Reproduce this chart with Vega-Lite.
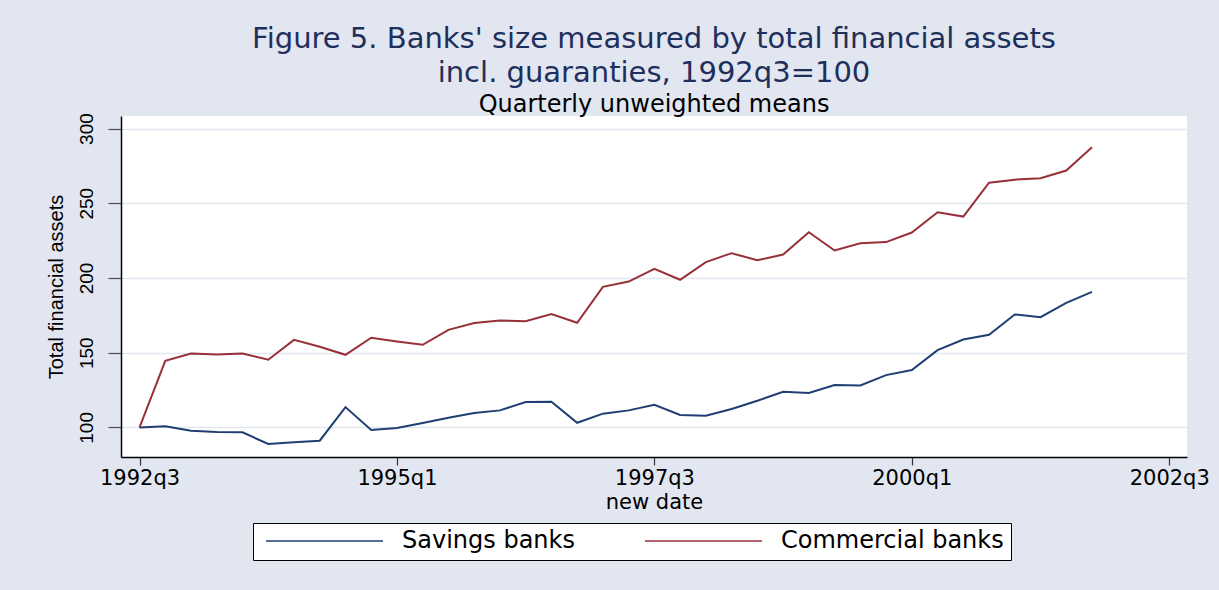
{
  "$schema": "https://vega.github.io/schema/vega-lite/v6.json",
  "width": 1066,
  "height": 341,
  "autosize": {"type": "none"},
  "padding": {"left": 121, "top": 116, "right": 32, "bottom": 133},
  "background": "#E2E6F0",
  "title": {
    "text": ["Figure 5. Banks' size measured by total financial assets", "incl. guaranties, 1992q3=100"],
    "subtitle": "Quarterly unweighted means",
    "anchor": "middle",
    "frame": "group",
    "font": "DejaVu Sans",
    "fontSize": 29,
    "fontWeight": "normal",
    "lineHeight": 34,
    "color": "#1F2F5C",
    "subtitleFont": "DejaVu Sans",
    "subtitleFontSize": 24,
    "subtitleColor": "#000000",
    "subtitlePadding": 5,
    "offset": -4
  },
  "data": {
    "values": [
      {"q": 0, "Savings banks": 100.0, "Commercial banks": 100.0},
      {"q": 1, "Savings banks": 100.7, "Commercial banks": 144.6},
      {"q": 2, "Savings banks": 97.7, "Commercial banks": 149.5},
      {"q": 3, "Savings banks": 96.9, "Commercial banks": 148.8},
      {"q": 4, "Savings banks": 96.7, "Commercial banks": 149.5},
      {"q": 5, "Savings banks": 88.9, "Commercial banks": 145.3},
      {"q": 6, "Savings banks": 90.0, "Commercial banks": 158.6},
      {"q": 7, "Savings banks": 91.1, "Commercial banks": 154.0},
      {"q": 8, "Savings banks": 113.6, "Commercial banks": 148.6},
      {"q": 9, "Savings banks": 98.3, "Commercial banks": 160.0},
      {"q": 10, "Savings banks": 99.6, "Commercial banks": 157.5},
      {"q": 11, "Savings banks": 103.0, "Commercial banks": 155.3},
      {"q": 12, "Savings banks": 106.5, "Commercial banks": 165.3},
      {"q": 13, "Savings banks": 109.6, "Commercial banks": 169.8},
      {"q": 14, "Savings banks": 111.4, "Commercial banks": 171.6},
      {"q": 15, "Savings banks": 117.0, "Commercial banks": 171.1},
      {"q": 16, "Savings banks": 117.2, "Commercial banks": 175.8},
      {"q": 17, "Savings banks": 103.1, "Commercial banks": 170.0},
      {"q": 18, "Savings banks": 109.2, "Commercial banks": 194.1},
      {"q": 19, "Savings banks": 111.4, "Commercial banks": 197.6},
      {"q": 20, "Savings banks": 115.2, "Commercial banks": 206.1},
      {"q": 21, "Savings banks": 108.3, "Commercial banks": 198.8},
      {"q": 22, "Savings banks": 107.8, "Commercial banks": 210.6},
      {"q": 23, "Savings banks": 112.3, "Commercial banks": 216.6},
      {"q": 24, "Savings banks": 117.8, "Commercial banks": 211.9},
      {"q": 25, "Savings banks": 123.9, "Commercial banks": 215.7},
      {"q": 26, "Savings banks": 123.0, "Commercial banks": 230.6},
      {"q": 27, "Savings banks": 128.3, "Commercial banks": 218.4},
      {"q": 28, "Savings banks": 128.1, "Commercial banks": 223.3},
      {"q": 29, "Savings banks": 135.0, "Commercial banks": 224.0},
      {"q": 30, "Savings banks": 138.4, "Commercial banks": 230.4},
      {"q": 31, "Savings banks": 151.7, "Commercial banks": 244.0},
      {"q": 32, "Savings banks": 158.8, "Commercial banks": 241.1},
      {"q": 33, "Savings banks": 162.0, "Commercial banks": 263.8},
      {"q": 34, "Savings banks": 175.6, "Commercial banks": 265.8},
      {"q": 35, "Savings banks": 173.8, "Commercial banks": 266.7},
      {"q": 36, "Savings banks": 183.4, "Commercial banks": 271.9},
      {"q": 37, "Savings banks": 190.7, "Commercial banks": 287.5}
    ]
  },
  "transform": [{"fold": ["Savings banks", "Commercial banks"], "as": ["bank", "value"]}],
  "mark": {"type": "line", "strokeWidth": 2},
  "encoding": {
    "x": {
      "field": "q",
      "type": "quantitative",
      "scale": {"domain": [-0.72, 40.69], "nice": false, "zero": false},
      "axis": {
        "values": [0, 10, 20, 30, 40],
        "labelExpr": "(floor((datum.value+2)/4)+1992) + 'q' + (((datum.value+2)%4)+1)",
        "title": "new date",
        "grid": false,
        "domainColor": "#000000",
        "domainWidth": 1.5,
        "tickColor": "#333333",
        "tickWidth": 1.2,
        "tickSize": 8,
        "labelPadding": 2,
        "labelFont": "DejaVu Sans",
        "labelFontSize": 21,
        "labelColor": "#000000",
        "labelFlush": false,
        "labelOverlap": false,
        "titleFont": "DejaVu Sans",
        "titleFontSize": 21,
        "titleFontWeight": "normal",
        "titleColor": "#000000",
        "titlePadding": 3
      }
    },
    "y": {
      "field": "value",
      "type": "quantitative",
      "scale": {"domain": [80.2, 308.4], "nice": false, "zero": false},
      "axis": {
        "values": [100, 150, 200, 250, 300],
        "title": "Total financial assets",
        "grid": true,
        "gridColor": "#E1E6F0",
        "gridWidth": 1.5,
        "domainColor": "#000000",
        "domainWidth": 1.5,
        "tickColor": "#4D4D4D",
        "tickWidth": 1.2,
        "tickSize": 13,
        "labelAngle": -90,
        "labelPadding": 12,
        "labelFont": "Liberation Sans",
        "labelFontSize": 19,
        "labelColor": "#000000",
        "labelFlush": false,
        "labelOverlap": false,
        "titleFont": "Liberation Sans",
        "titleFontSize": 20,
        "titleFontWeight": "normal",
        "titleColor": "#000000",
        "titlePadding": 11
      }
    },
    "color": {
      "field": "bank",
      "type": "nominal",
      "scale": {"domain": ["Savings banks", "Commercial banks"], "range": ["#1F3F72", "#973039"]},
      "legend": {
        "title": null,
        "orient": "none",
        "legendX": 132,
        "legendY": 407,
        "direction": "horizontal",
        "columns": 2,
        "symbolType": "stroke",
        "symbolSize": 13689,
        "symbolStrokeWidth": 1.5,
        "clipHeight": 22,
        "symbolOffset": 5,
        "labelOffset": 18,
        "columnPadding": 64,
        "padding": 7,
        "fillColor": "#FFFFFF",
        "strokeColor": "#000000",
        "labelFont": "DejaVu Sans",
        "labelFontSize": 24,
        "labelColor": "#000000",
        "labelLimit": 400
      }
    }
  },
  "config": {"view": {"fill": "#FFFFFF", "stroke": null}}
}
